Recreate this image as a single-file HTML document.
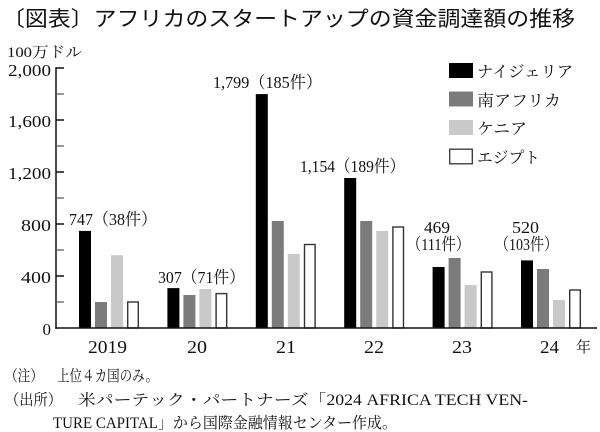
<!DOCTYPE html>
<html><head><meta charset="utf-8">
<style>
html,body{margin:0;padding:0;background:#fff;}
svg{display:block;}
.s{font-family:"Liberation Serif","Noto Serif CJK SC",serif;fill:#111;}
.g{font-family:"Liberation Sans","Noto Sans CJK JP",sans-serif;fill:#111;}
</style></head>
<body>
<svg width="600" height="432" viewBox="0 0 600 432" xmlns="http://www.w3.org/2000/svg">
<rect width="600" height="432" fill="#fff"/>
<!-- title -->
<text class="g" x="2" y="26" font-size="21" textLength="573" lengthAdjust="spacingAndGlyphs">〔図表〕アフリカのスタートアップの資金調達額の推移</text>
<!-- unit -->
<text class="s" x="7" y="57" font-size="15" textLength="75" lengthAdjust="spacingAndGlyphs">100万ドル</text>

<!-- y labels -->
<g class="s" font-size="17" text-anchor="end">
<text x="51" y="76" textLength="43" lengthAdjust="spacingAndGlyphs">2,000</text>
<text x="51" y="127" textLength="43" lengthAdjust="spacingAndGlyphs">1,600</text>
<text x="51" y="179" textLength="43" lengthAdjust="spacingAndGlyphs">1,200</text>
<text x="51" y="231" textLength="30" lengthAdjust="spacingAndGlyphs">800</text>
<text x="51" y="283" textLength="30" lengthAdjust="spacingAndGlyphs">400</text>
<text x="51" y="335">0</text>
</g>

<!-- bars -->
<g>
<!-- 2019 x0=79 -->
<rect x="79" y="230.9" width="12" height="97.1" fill="#000"/>
<rect x="95" y="302" width="12" height="26" fill="#7b7b7b"/>
<rect x="111" y="255.2" width="12" height="72.8" fill="#c9c9c9"/>
<rect x="127.7" y="302" width="10.6" height="26" fill="#fff" stroke="#333" stroke-width="1.4"/>
<!-- 2020 x0=167.4 -->
<rect x="167.4" y="288.1" width="12" height="39.9" fill="#000"/>
<rect x="183.4" y="295" width="12" height="33" fill="#7b7b7b"/>
<rect x="199.4" y="289" width="12" height="39" fill="#c9c9c9"/>
<rect x="216.1" y="293.6" width="10.6" height="34.4" fill="#fff" stroke="#333" stroke-width="1.4"/>
<!-- 2021 x0=255.8 -->
<rect x="255.8" y="94.1" width="12" height="233.9" fill="#000"/>
<rect x="271.8" y="221" width="12" height="107" fill="#7b7b7b"/>
<rect x="287.8" y="254" width="12" height="74" fill="#c9c9c9"/>
<rect x="304.5" y="244.5" width="10.6" height="83.5" fill="#fff" stroke="#333" stroke-width="1.4"/>
<!-- 2022 x0=344.2 -->
<rect x="344.2" y="178" width="12" height="150" fill="#000"/>
<rect x="360.2" y="221" width="12" height="107" fill="#7b7b7b"/>
<rect x="376.2" y="231" width="12" height="97" fill="#c9c9c9"/>
<rect x="392.9" y="227" width="10.6" height="101" fill="#fff" stroke="#333" stroke-width="1.4"/>
<!-- 2023 x0=432.6 -->
<rect x="432.6" y="267" width="12" height="61" fill="#000"/>
<rect x="448.6" y="258" width="12" height="70" fill="#7b7b7b"/>
<rect x="464.6" y="285" width="12" height="43" fill="#c9c9c9"/>
<rect x="481.3" y="272" width="10.6" height="56" fill="#fff" stroke="#333" stroke-width="1.4"/>
<!-- 2024 x0=521 -->
<rect x="521" y="260.4" width="12" height="67.6" fill="#000"/>
<rect x="537" y="269" width="12" height="59" fill="#7b7b7b"/>
<rect x="553" y="300" width="12" height="28" fill="#c9c9c9"/>
<rect x="569.7" y="290" width="10.6" height="38" fill="#fff" stroke="#333" stroke-width="1.4"/>
</g>

<!-- axes -->
<g stroke="#111" stroke-width="1.5" fill="none">
<line x1="56" y1="67.3" x2="56" y2="328.7"/>
<line x1="55.3" y1="328" x2="597" y2="328"/>
<line x1="56" y1="68" x2="64" y2="68"/>
<line x1="56" y1="120" x2="64" y2="120"/>
<line x1="56" y1="172" x2="64" y2="172"/>
<line x1="56" y1="224" x2="64" y2="224"/>
<line x1="56" y1="276" x2="64" y2="276"/>
</g>
<g stroke="#555" stroke-width="1.2">
<line x1="56" y1="94" x2="64" y2="94"/>
<line x1="56" y1="146" x2="64" y2="146"/>
<line x1="56" y1="198" x2="64" y2="198"/>
<line x1="56" y1="250" x2="64" y2="250"/>
<line x1="56" y1="302" x2="64" y2="302"/>
</g>

<!-- bar value labels -->
<g class="s" font-size="17">
<text x="69" y="225" textLength="88" lengthAdjust="spacingAndGlyphs">747（38件）</text>
<text x="158" y="283" textLength="87" lengthAdjust="spacingAndGlyphs">307（71件）</text>
<text x="213" y="88" textLength="109" lengthAdjust="spacingAndGlyphs">1,799（185件）</text>
<text x="300" y="172" textLength="105" lengthAdjust="spacingAndGlyphs">1,154（189件）</text>
<text x="424" y="233" textLength="26" lengthAdjust="spacingAndGlyphs">469</text>
<text x="407" y="250" textLength="63" lengthAdjust="spacingAndGlyphs">（111件）</text>
<text x="512" y="233" textLength="27" lengthAdjust="spacingAndGlyphs">520</text>
<text x="495" y="250" textLength="63" lengthAdjust="spacingAndGlyphs">（103件）</text>
</g>

<!-- x labels -->
<g class="s" font-size="18">
<text x="88" y="353" textLength="39" lengthAdjust="spacingAndGlyphs">2019</text>
<text x="187" y="353" textLength="20" lengthAdjust="spacingAndGlyphs">20</text>
<text x="276" y="353" textLength="20" lengthAdjust="spacingAndGlyphs">21</text>
<text x="364" y="353" textLength="20" lengthAdjust="spacingAndGlyphs">22</text>
<text x="452" y="353" textLength="20" lengthAdjust="spacingAndGlyphs">23</text>
<text x="540" y="353" textLength="19" lengthAdjust="spacingAndGlyphs">24</text>
<text x="576" y="352" font-size="15">年</text>
</g>

<!-- legend -->
<rect x="449" y="63" width="24" height="15" fill="#000"/>
<rect x="449" y="91.5" width="24" height="15" fill="#7b7b7b"/>
<rect x="449" y="120" width="24" height="15" fill="#c9c9c9"/>
<rect x="449.7" y="149.2" width="22.6" height="14.6" fill="#fff" stroke="#333" stroke-width="1.3"/>
<g class="s" font-size="16">
<text x="477" y="77" textLength="96" lengthAdjust="spacingAndGlyphs">ナイジェリア</text>
<text x="477" y="106" textLength="84" lengthAdjust="spacingAndGlyphs">南アフリカ</text>
<text x="477" y="134" textLength="50" lengthAdjust="spacingAndGlyphs">ケニア</text>
<text x="477" y="163" textLength="63" lengthAdjust="spacingAndGlyphs">エジプト</text>
</g>

<!-- notes -->
<g class="s" font-size="15.5">
<text x="5" y="381" textLength="38" lengthAdjust="spacingAndGlyphs">（注）</text>
<text x="57" y="381" textLength="101" lengthAdjust="spacingAndGlyphs">上位４カ国のみ。</text>
<text x="5" y="405" textLength="57" lengthAdjust="spacingAndGlyphs">（出所）</text>
<text x="78" y="405" textLength="450" lengthAdjust="spacingAndGlyphs">米パーテック・パートナーズ「2024 AFRICA TECH VEN-</text>
<text x="53" y="428" textLength="344" lengthAdjust="spacingAndGlyphs">TURE CAPITAL」から国際金融情報センター作成。</text>
</g>
</svg>
</body></html>
